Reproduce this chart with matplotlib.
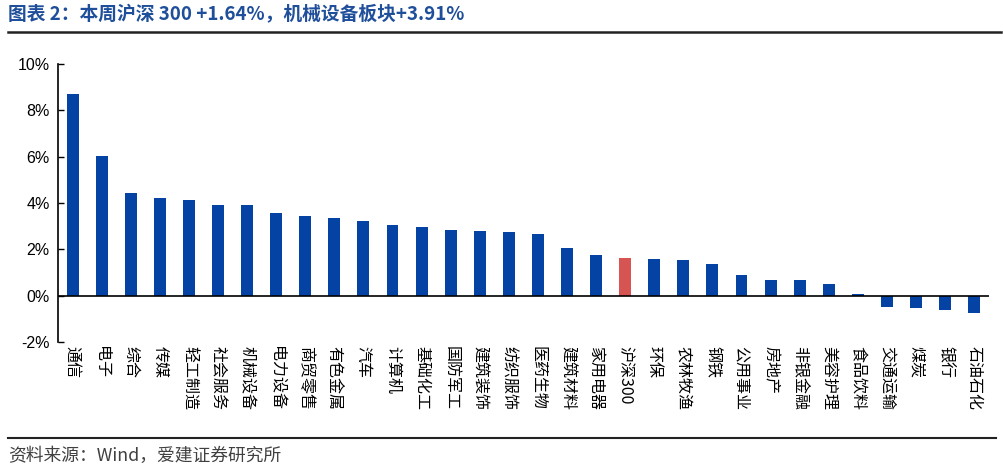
import numpy as np
import matplotlib
matplotlib.use("Agg")
import matplotlib.pyplot as plt

plt.rcParams['font.family'] = ['Noto Sans CJK SC', 'DejaVu Sans']

# weekly return by sector, %
sectors = ['通信', '电子', '综合', '传媒', '轻工制造', '社会服务', '机械设备', '电力设备',
           '商贸零售', '有色金属', '汽车', '计算机', '基础化工', '国防军工', '建筑装饰',
           '纺织服饰', '医药生物', '建筑材料', '家用电器', '沪深300', '环保', '农林牧渔',
           '钢铁', '公用事业', '房地产', '非银金融', '美容护理', '食品饮料', '交通运输',
           '煤炭', '银行', '石油石化']
returns = [8.69, 6.03, 4.43, 4.22, 4.15, 3.92, 3.91, 3.59,
           3.45, 3.36, 3.23, 3.06, 2.96, 2.83, 2.80,
           2.74, 2.66, 2.07, 1.75, 1.64, 1.58, 1.55,
           1.39, 0.89, 0.70, 0.66, 0.50, 0.07, -0.47,
           -0.52, -0.60, -0.73]
highlight = '沪深300'

blue = '#0443A3'
red = '#D65552'

fig = plt.figure(figsize=(10.04, 4.70), dpi=100)
ax = fig.add_axes([0.0578, 0.272, 0.927, 0.592])

x = np.arange(len(sectors))
colors = [red if s == highlight else blue for s in sectors]
ax.bar(x, returns, width=0.41, color=colors, zorder=2)
ax.axhline(0, color='black', linewidth=1.2, zorder=3)

ax.set_xlim(-0.5, len(sectors) - 0.5)
ax.set_ylim(-2, 10)
ax.set_yticks(np.arange(-2, 11, 2))
ax.set_yticklabels([f'{v}%' for v in range(-2, 11, 2)],
                   family=['Liberation Sans', 'DejaVu Sans'], fontsize=11.5)
ax.tick_params(axis='y', direction='in', length=4, width=1, pad=6)

ax.set_xticks(x)
ax.set_xticklabels(sectors, rotation=270, ha='center', va='top', fontsize=11.5)
ax.tick_params(axis='x', length=0, pad=3)

for s in ['top', 'right', 'bottom']:
    ax.spines[s].set_visible(False)
ax.spines['left'].set_linewidth(1.2)

# header and footer
fig.text(0.008, 0.968, '图表 2：本周沪深 300 +1.64%，机械设备板块+3.91%',
         fontsize=13.5, fontweight='bold', color='#1F4E9A', va='center', ha='left')
fig.add_artist(plt.Line2D([0.008, 0.997], [0.932, 0.932], color='#222222', linewidth=1.8))
fig.add_artist(plt.Line2D([0.008, 0.992], [0.068, 0.068], color='#222222', linewidth=1.5))
fig.text(0.008, 0.030, '资料来源：Wind，爱建证券研究所', fontsize=12.8,
         color='#404040', va='center', ha='left')

fig.savefig('out.png', dpi=100)
